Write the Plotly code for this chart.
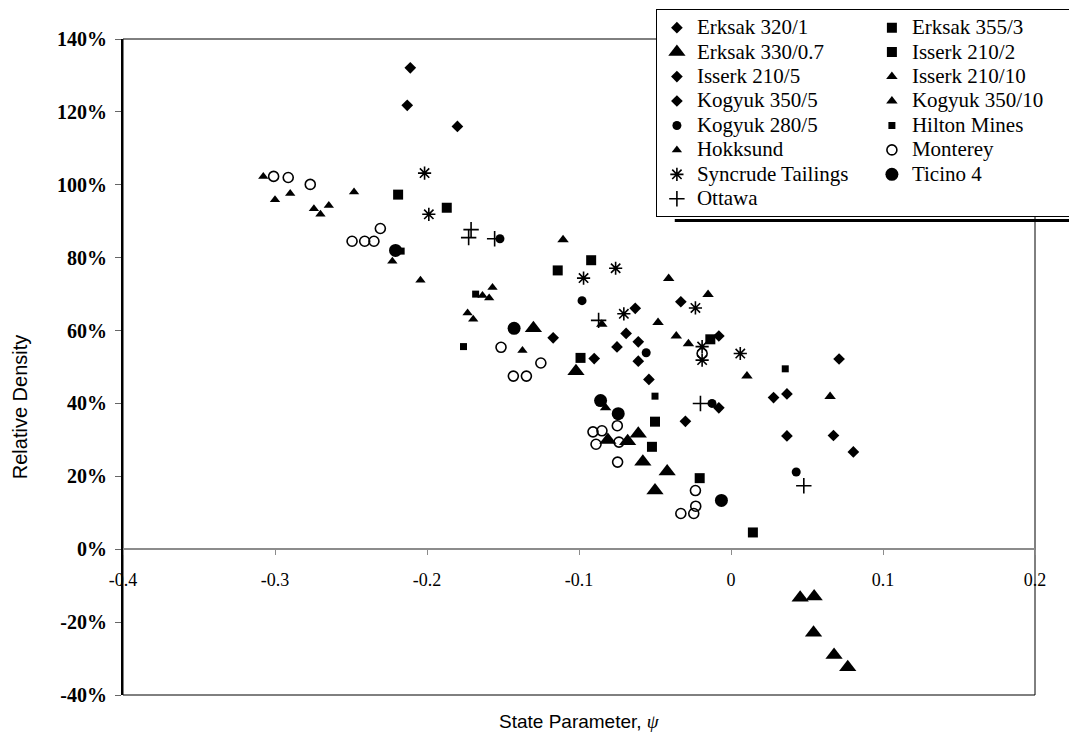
import plotly.graph_objects as go

# ---------------- data ----------------
erksak_320_1_x = [-0.211, -0.213, -0.180, -0.117, -0.090]
erksak_320_1_y = [132.1, 121.8, 116.0, 58.0, 52.3]

erksak_355_3_x = [-0.219, -0.187, -0.092, -0.114, -0.0136, -0.099]
erksak_355_3_y = [97.3, 93.7, 79.3, 76.5, 57.6, 52.5]

erksak_330_07_x = [-0.130, -0.102, -0.081, -0.068, -0.061, -0.058, -0.042, -0.050,
                   0.0455, 0.0547, 0.0543, 0.0678, 0.0768]
erksak_330_07_y = [60.6, 48.8, 30.0, 29.6, 31.7, 24.0, 21.3, 16.1,
                   -13.3, -13.0, -22.9, -29.0, -32.4]

isserk_210_2_x = [-0.050, -0.052, -0.0206, 0.0144]
isserk_210_2_y = [35.0, 28.1, 19.5, 4.6]

isserk_210_5_x = [-0.063, -0.069, -0.061, -0.075, -0.061, -0.054, -0.033, -0.008]
isserk_210_5_y = [66.1, 59.2, 56.9, 55.5, 51.6, 46.6, 67.9, 58.5]

isserk_210_10_x = [-0.1105, -0.085, -0.0825]
isserk_210_10_y = [84.9, 61.7, 38.8]

kogyuk_350_5_x = [-0.030, -0.008, 0.028, 0.0368, 0.0711, 0.0368, 0.0674, 0.0805]
kogyuk_350_5_y = [35.1, 38.8, 41.6, 42.6, 52.2, 31.1, 31.2, 26.7]

kogyuk_350_10_x = [-0.041, -0.0151, -0.048, -0.036, -0.028, 0.0105, 0.0652]
kogyuk_350_10_y = [74.3, 69.9, 62.2, 58.5, 56.4, 47.5, 41.9]

kogyuk_280_5_x = [-0.152, -0.098, -0.0558, -0.0125, 0.0429]
kogyuk_280_5_y = [85.2, 68.2, 53.9, 40.0, 21.2]

hilton_mines_x = [-0.217, -0.168, -0.176, -0.050, 0.0357]
hilton_mines_y = [81.8, 70.0, 55.6, 42.0, 49.5]

hokksund_x = [-0.3077, -0.300, -0.290, -0.248, -0.2744, -0.2701, -0.2646, -0.2228,
              -0.2043, -0.1733, -0.1696, -0.1635, -0.1569, -0.1591, -0.1372]
hokksund_y = [102.3, 95.9, 97.6, 98.0, 93.4, 91.9, 94.3, 79.0,
              73.8, 64.8, 63.1, 69.6, 71.8, 68.9, 54.5]

monterey_x = [-0.3009, -0.2913, -0.2768, -0.2493, -0.241, -0.2349, -0.2307, -0.1513,
              -0.1251, -0.1432, -0.1346, -0.0748, -0.0908, -0.0849, -0.0888, -0.0737,
              -0.0746, -0.0234, -0.0232, -0.0245, -0.033, -0.019]
monterey_y = [102.3, 102.0, 100.1, 84.5, 84.5, 84.5, 88.0, 55.4,
              51.1, 47.5, 47.5, 33.9, 32.2, 32.5, 28.8, 29.4,
              23.9, 16.1, 11.8, 9.8, 9.8, 53.7]

syncrude_x = [-0.2016, -0.1988, -0.097, -0.0759, -0.0705, -0.0234, -0.019, -0.019, 0.0061]
syncrude_y = [103.2, 91.9, 74.4, 77.1, 64.6, 66.2, 55.6, 51.9, 53.7]

ticino_4_x = [-0.2207, -0.1427, -0.0858, -0.0742, -0.0063]
ticino_4_y = [82.0, 60.6, 40.8, 37.2, 13.4]

ottawa_x = [-0.171, -0.1726, -0.1555, -0.0871, -0.0201, 0.0479]
ottawa_y = [87.7, 85.5, 85.2, 62.8, 40.0, 17.4]

x_tick_vals = [-0.4, -0.3, -0.2, -0.1, 0.0, 0.1, 0.2]
x_tick_text = ["-0.4", "-0.3", "-0.2", "-0.1", "0", "0.1", "0.2"]
y_tick_vals = [-40, -20, 0, 20, 40, 60, 80, 100, 120, 140]
y_tick_text = ["-40%", "-20%", "0%", "20%", "40%", "60%", "80%", "100%", "120%", "140%"]

# ---------------- series definitions (legend order, 2 columns) ----------------
series = [
    ("Erksak 320/1", erksak_320_1_x, erksak_320_1_y, "diamond", 9, False),
    ("Erksak 355/3", erksak_355_3_x, erksak_355_3_y, "square", 10, False),
    ("Erksak 330/0.7", erksak_330_07_x, erksak_330_07_y, "triangle-up", 15, False),
    ("Isserk 210/2", isserk_210_2_x, isserk_210_2_y, "square", 10, False),
    ("Isserk 210/5", isserk_210_5_x, isserk_210_5_y, "diamond", 9, False),
    ("Isserk 210/10", isserk_210_10_x, isserk_210_10_y, "triangle-up", 10, False),
    ("Kogyuk 350/5", kogyuk_350_5_x, kogyuk_350_5_y, "diamond", 9, False),
    ("Kogyuk 350/10", kogyuk_350_10_x, kogyuk_350_10_y, "triangle-up", 10, False),
    ("Kogyuk 280/5", kogyuk_280_5_x, kogyuk_280_5_y, "circle", 9, False),
    ("Hilton Mines", hilton_mines_x, hilton_mines_y, "square", 7, False),
    ("Hokksund", hokksund_x, hokksund_y, "triangle-up", 9, False),
    ("Monterey", monterey_x, monterey_y, "circle-open", 10, True),
    ("Syncrude Tailings", syncrude_x, syncrude_y, "asterisk-open", 11, True),
    ("Ticino 4", ticino_4_x, ticino_4_y, "circle", 13, False),
    ("Ottawa", ottawa_x, ottawa_y, "cross-thin-open", 11, True),
]

fig = go.Figure()
for name, xs, ys, sym, size, is_line in series:
    marker = dict(symbol=sym, size=size, color="black")
    if is_line:
        marker["line"] = dict(color="black", width=1.6)
    else:
        marker["line"] = dict(width=0)
    fig.add_trace(go.Scatter(
        x=xs, y=ys, mode="markers",
        name="<span style='font-size:21px'>" + name + "</span>",
        marker=marker, cliponaxis=False))

serif = "Liberation Serif, Times New Roman, serif"
sans = "Liberation Sans, Arial, sans-serif"

fig.update_layout(
    width=1077, height=738,
    margin=dict(l=115, r=50, t=31, b=51, autoexpand=False),
    paper_bgcolor="white", plot_bgcolor="white",
    showlegend=True,
    legend=dict(
        orientation="h", x=1.058, xanchor="right", y=0.728, yanchor="bottom",
        bgcolor="white", bordercolor="black", borderwidth=1,
        font=dict(family=serif, size=16.5, color="black"),
        entrywidth=170, itemwidth=30, tracegroupgap=0,
    ),
    xaxis=dict(
        range=[-0.4, 0.2], anchor="free", position=40 / 180,
        tickvals=x_tick_vals, ticktext=x_tick_text,
        showline=True, linecolor="#8c8c8c", linewidth=1.5,
        ticks="outside", ticklen=5, tickcolor="#8c8c8c", tickwidth=1,
        showgrid=False, zeroline=False, ticklabelstandoff=9,
        tickfont=dict(family=serif, size=18, color="black"),
    ),
    yaxis=dict(
        range=[-40, 140], tickvals=y_tick_vals, ticktext=y_tick_text,
        showline=True, linecolor="black", linewidth=2,
        ticks="outside", ticklen=6, tickcolor="#666", tickwidth=1,
        showgrid=False, zeroline=False, ticklabelstandoff=4,
        tickfont=dict(family=serif, size=20, color="black", weight="bold"),
    ),
    shapes=[
        dict(type="rect", xref="paper", yref="paper", x0=0, x1=1, y0=0, y1=1,
             line=dict(color="black", width=1), layer="below"),
        dict(type="line", xref="paper", yref="paper", x0=0.605, x1=1.06,
             y0=0.7235, y1=0.7235, line=dict(color="black", width=3), layer="above"),
    ],
    annotations=[
        dict(text="Relative Density", xref="paper", yref="paper",
             x=-0.112, y=0.44, xanchor="center", yanchor="middle", textangle=-90,
             showarrow=False, font=dict(family=sans, size=20, color="black")),
        dict(text="State Parameter, <i><span style='font-family:Liberation Serif'>ψ</span></i>",
             xref="paper", yref="paper", x=0.5, y=-0.04, xanchor="center", yanchor="middle",
             showarrow=False, font=dict(family=sans, size=19, color="black")),
    ],
)

fig.write_html("out.html")
